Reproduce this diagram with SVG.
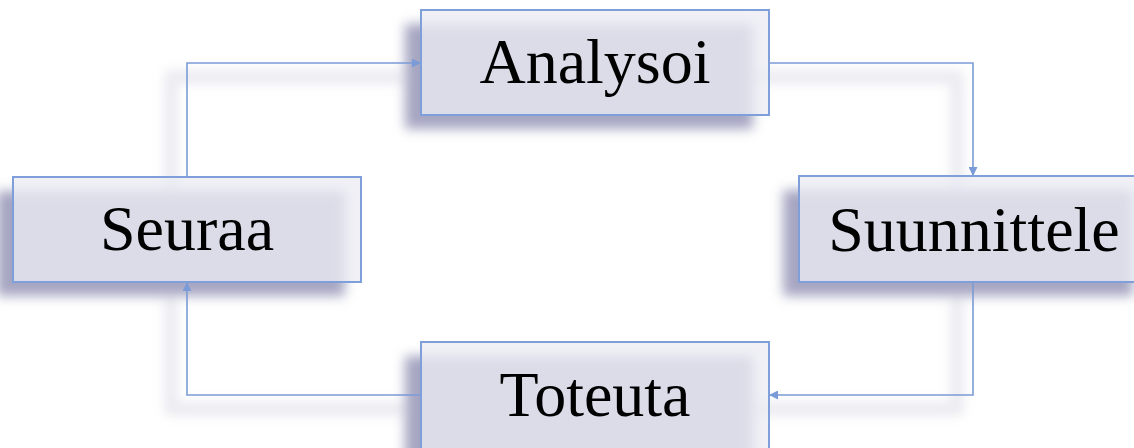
<svg xmlns="http://www.w3.org/2000/svg" width="1134" height="448" viewBox="0 0 1134 448">
  <style>
    .box { fill: #ececf3; fill-opacity: 0.78; stroke: #7f9fda; stroke-width: 2; }
    .shadow { fill: #a6a6c2; filter: url(#soft); }
    .wire { fill: none; stroke: #7b9bd6; stroke-width: 1.6; }
    .wire-shadow { fill: none; stroke: #d2d2e0; stroke-width: 12; filter: url(#softer); opacity: 0.5; }
    .label { font-family: "Liberation Serif", "Times New Roman", serif; font-size: 64px; fill: #000; text-anchor: middle; }
  </style>
  <defs>
    <filter id="soft" x="-20%" y="-40%" width="140%" height="180%">
      <feGaussianBlur stdDeviation="6"/>
    </filter>
    <filter id="softer" x="-20%" y="-20%" width="140%" height="140%">
      <feGaussianBlur stdDeviation="6"/>
    </filter>
    <marker id="arrow" viewBox="0 0 10 10" refX="10" refY="5" markerWidth="9" markerHeight="9" markerUnits="userSpaceOnUse" orient="auto">
      <path d="M0,0 L10,5 L0,10 z" fill="#7b9bd6"/>
    </marker>
  </defs>

  <rect width="1134" height="448" fill="#ffffff"/>

  <!-- connector shadows -->
  <g id="connector-shadows" transform="translate(-16,14)">
    <path class="wire-shadow" d="M187,177 V63 H421"/>
    <path class="wire-shadow" d="M769,63 H973 V176"/>
    <path class="wire-shadow" d="M973,282 V395 H769"/>
    <path class="wire-shadow" d="M421,395 H187 V282"/>
  </g>

  <!-- box shadows -->
  <g id="box-shadows" transform="translate(-16,14)">
    <rect class="shadow" x="421" y="10" width="348" height="105"/>
    <rect class="shadow" x="13" y="177" width="348" height="105"/>
    <rect class="shadow" x="799" y="176" width="350" height="106"/>
    <rect class="shadow" x="421" y="342" width="348" height="110"/>
  </g>

  <!-- connectors -->
  <g id="connectors">
    <path class="wire" d="M187,177 V63 H421" marker-end="url(#arrow)"/>
    <path class="wire" d="M769,63 H973 V176" marker-end="url(#arrow)"/>
    <path class="wire" d="M973,282 V395 H769" marker-end="url(#arrow)"/>
    <path class="wire" d="M421,395 H187 V282" marker-end="url(#arrow)"/>
  </g>

  <g id="analysoi">
    <rect class="box" x="421" y="10" width="348" height="105"/>
    <text class="label" x="595" y="83">Analysoi</text>
  </g>

  <g id="suunnittele">
    <rect class="box" x="799" y="176" width="350" height="106"/>
    <text class="label" x="974" y="251">Suunnittele</text>
  </g>

  <g id="toteuta">
    <rect class="box" x="421" y="342" width="348" height="110"/>
    <text class="label" x="595" y="416">Toteuta</text>
  </g>

  <g id="seuraa">
    <rect class="box" x="13" y="177" width="348" height="105"/>
    <text class="label" x="187" y="250">Seuraa</text>
  </g>
</svg>
